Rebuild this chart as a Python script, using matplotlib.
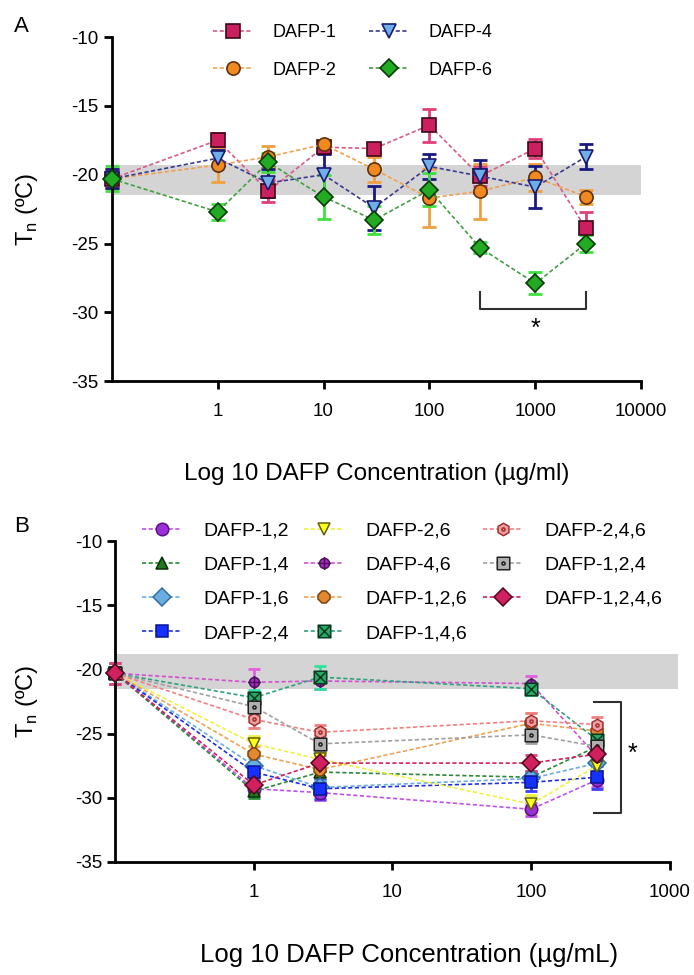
import matplotlib
matplotlib.use("Agg")
import matplotlib.pyplot as plt
from matplotlib.path import Path

plt.rcParams['font.family'] = ['Liberation Sans', 'DejaVu Sans']
plt.rcParams['axes.unicode_minus'] = False

# ---- panel A data ----
conc_a = [0.1, 1, 3, 10, 30, 100, 300, 1000, 3000]
dafp1 = [-20.3, -17.5, -21.2, -18.0, -18.1, -16.4, -20.1, -18.1, -23.9]
dafp1_err = [0.7, 0.5, 0.8, 0.4, 0.3, 1.2, 0.7, 0.7, 1.2]
dafp2 = [-20.3, -19.3, -18.7, -17.8, -19.6, -21.7, -21.2, -20.2, -21.6]
dafp2_err = [0.7, 1.2, 0.8, 0.3, 0.9, 2.1, 2.0, 1.0, 0.5]
dafp4 = [-20.3, -18.8, -20.6, -20.0, -22.4, -19.4, -20.1, -20.9, -18.7]
dafp4_err = [0.7, 0.6, 1.0, 1.5, 1.6, 0.9, 1.2, 1.5, 0.9]
dafp6 = [-20.3, -22.7, -19.1, -21.6, -23.3, -21.1, -25.3, -27.9, -25.0]
dafp6_err = [0.9, 0.6, 0.7, 1.6, 1.0, 1.2, 0.4, 0.8, 0.6]

# ---- panel B data ----
conc_b = [0.1, 1, 3, 100, 300]
b_labels = ['DAFP-1,2', 'DAFP-1,4', 'DAFP-1,6', 'DAFP-2,4',
            'DAFP-2,6', 'DAFP-4,6', 'DAFP-1,2,6', 'DAFP-1,4,6',
            'DAFP-2,4,6', 'DAFP-1,2,4', 'DAFP-1,2,4,6']
b_vals = [
    [-20.3, -29.3, -29.6, -30.9, -28.6],
    [-20.3, -29.5, -28.0, -28.4, -26.0],
    [-20.3, -27.5, -29.2, -28.5, -27.3],
    [-20.3, -28.0, -29.3, -28.8, -28.4],
    [-20.3, -25.8, -27.0, -30.5, -27.5],
    [-20.3, -21.0, -20.9, -21.1, -26.8],
    [-20.3, -26.6, -27.8, -24.2, -24.8],
    [-20.3, -22.2, -20.6, -21.5, -25.5],
    [-20.3, -23.9, -24.9, -24.0, -24.3],
    [-20.3, -22.9, -25.8, -25.1, -26.0],
    [-20.3, -29.0, -27.3, -27.3, -26.6],
]
b_errs = [
    [0.8, 0.5, 0.6, 0.5, 0.6],
    [0.8, 0.5, 0.6, 0.5, 0.6],
    [0.8, 0.6, 0.6, 0.5, 0.6],
    [0.8, 0.6, 0.8, 0.7, 0.9],
    [0.8, 0.6, 0.6, 0.7, 0.6],
    [0.8, 1.0, 0.6, 0.6, 0.6],
    [0.8, 0.6, 0.6, 0.8, 0.6],
    [0.8, 0.6, 0.9, 0.5, 0.6],
    [0.8, 0.7, 0.6, 0.6, 0.6],
    [0.8, 0.6, 0.6, 0.6, 0.6],
    [0.8, 0.6, 0.6, 0.6, 0.6],
]

# custom markers
circ = Path.unit_circle()
cross = Path([[-1.25, 0], [1.25, 0], [0, -1.25], [0, 1.25]],
             [Path.MOVETO, Path.LINETO, Path.MOVETO, Path.LINETO])
circle_cross = Path.make_compound_path(circ, cross)
sq = Path([[-1, -1], [1, -1], [1, 1], [-1, 1], [-1, -1]],
          [Path.MOVETO, Path.LINETO, Path.LINETO, Path.LINETO, Path.CLOSEPOLY])
xlines = Path([[-1, -1], [1, 1], [-1, 1], [1, -1]],
              [Path.MOVETO, Path.LINETO, Path.MOVETO, Path.LINETO])
square_x = Path.make_compound_path(sq, xlines)
dot = Path(circ.vertices * 0.25, circ.codes)
square_dot = Path.make_compound_path(sq, dot)
hexa = Path.unit_regular_polygon(6)
hex_dot = Path.make_compound_path(hexa, dot)

b_styles = [
    # marker, face, edge, line, err
    ('o', '#9b30d8', '#5a1080', '#c050e8', '#c050e8'),
    ('^', '#1f7a1f', '#0a300a', '#2a8a3a', '#2a8a3a'),
    ('D', '#6aaee0', '#2f6fa8', '#6aaee0', '#6aaee0'),
    ('s', '#1530ff', '#0a1590', '#2030e0', '#4040ff'),
    ('v', '#ffff20', '#606000', '#f0f040', '#f0f040'),
    (circle_cross, '#a030c0', '#50105a', '#d050d0', '#e060e0'),
    ('8', '#e08a30', '#804010', '#f0a050', '#f0a050'),
    (square_x, '#2aa868', '#0a3a20', '#30a080', '#30e0a0'),
    (hex_dot, '#f0a0a0', '#a03030', '#f08080', '#f08080'),
    (square_dot, '#b0b0b0', '#202020', '#a0a0a0', '#a0a0a0'),
    ('D', '#d02060', '#500818', '#d02060', '#e04080'),
]

fig = plt.figure(figsize=(6.94, 9.75), dpi=100)
axA = fig.add_axes([0.161, 0.609, 0.763, 0.353])
axB = fig.add_axes([0.166, 0.116, 0.799, 0.329])


def style_axis(ax, xmax):
    ticks = [t for t in [1, 10, 100, 1000, 10000] if t <= xmax]
    ax.set_xscale('log')
    ax.set_xlim(0.1, xmax)
    ax.set_ylim(-35, -10)
    ax.set_yticks([-35, -30, -25, -20, -15, -10])
    ax.set_xticks(ticks)
    ax.set_xticklabels([str(t) for t in ticks])
    ax.minorticks_off()
    for s in ['top', 'right']:
        ax.spines[s].set_visible(False)
    for s in ['left', 'bottom']:
        ax.spines[s].set_linewidth(2)
    ax.tick_params(width=2, length=6, labelsize=13.5, direction='out')
    ax.tick_params(axis='x', pad=10)


# ---- panel A ----
style_axis(axA, 10000)
axA.fill_between([0.1, 10000], -21.45, -19.3, color='#d4d4d4', lw=0, zorder=0)

a_series = [
    ('DAFP-1', dafp1, dafp1_err, 's', '#cc1f5f', '#3a0a18', '#d85a88', '#e0407a'),
    ('DAFP-2', dafp2, dafp2_err, 'o', '#f08a20', '#603010', '#f0a050', '#f0a040'),
    ('DAFP-4', dafp4, dafp4_err, 'v', '#70aee8', '#1a1a70', '#3a3a90', '#1a1a80'),
    ('DAFP-6', dafp6, dafp6_err, 'D', '#22aa22', '#0a3a0a', '#40a040', '#40e040'),
]
for lab, y, e, m, fc, ec, lc, erc in a_series:
    axA.errorbar(conc_a, y, yerr=e, fmt='none', ecolor=erc, elinewidth=2,
                 capsize=5, capthick=2, zorder=2, clip_on=False)
    axA.plot(conc_a, y, ls=(0, (2.5, 1.5)), lw=1.2, color=lc, marker=m,
             ms=9.5, mfc=fc, mec=ec, mew=1.2, label=lab, zorder=3, clip_on=False)

axA.legend(loc='upper left', bbox_to_anchor=(213 / 694, 1 - 24 / 975),
           bbox_transform=fig.transFigure, ncol=2, frameon=False,
           fontsize=13, handlelength=2.2, handletextpad=1.1,
           columnspacing=1.8, labelspacing=1.15, borderpad=0, borderaxespad=0)

# significance bracket A
axA.plot([300, 300, 3000, 3000], [-28.5, -29.75, -29.75, -28.5],
         color='#303030', lw=1.5, clip_on=False)
axA.text(1000, -31.2, '*', ha='center', va='center', fontsize=18)

axA.set_xlabel('Log 10 DAFP Concentration (µg/ml)', fontsize=17.5)
axA.xaxis.set_label_coords(0.5, -0.238)
axA.set_ylabel(r'T$_\mathregular{n}$ (ºC)', fontsize=17)
axA.yaxis.set_label_coords(-0.136, 0.5)
fig.text(14 / 694, 1 - 27 / 975, 'A', fontsize=16, va='center', ha='left')

# ---- panel B ----
style_axis(axB, 1000)
axB.fill_between([0.1, 1150], -21.5, -18.8, color='#d4d4d4', lw=0, zorder=0,
                 clip_on=False)

for lab, y, e, st in zip(b_labels, b_vals, b_errs, b_styles):
    m, fc, ec, lc, erc = st
    axB.errorbar(conc_b, y, yerr=e, fmt='none', ecolor=erc, elinewidth=2,
                 capsize=4, capthick=2, zorder=2, clip_on=False)
    axB.plot(conc_b, y, ls=(0, (2.5, 1.5)), lw=1.2, color=lc, marker=m,
             ms=9, mfc=fc, mec=ec, mew=1.1, label=lab, zorder=3, clip_on=False)

axB.legend(loc='upper left', bbox_to_anchor=(142 / 694, 1 - 522 / 975),
           bbox_transform=fig.transFigure, ncol=3, frameon=False,
           fontsize=14, handlelength=2.05, handletextpad=1.1,
           columnspacing=0.8, labelspacing=0.85, borderpad=0, borderaxespad=0)

# significance bracket B
axB.plot([283, 447, 447, 283], [-22.5, -22.5, -31.2, -31.2],
         color='#303030', lw=1.5, clip_on=False)
axB.text(537, -26.6, '*', ha='center', va='center', fontsize=18)

axB.set_xlabel('Log 10 DAFP Concentration (µg/mL)', fontsize=18.5)
axB.xaxis.set_label_coords(0.53, -0.252)
axB.set_ylabel(r'T$_\mathregular{n}$ (ºC)', fontsize=17)
axB.yaxis.set_label_coords(-0.135, 0.5)
fig.text(14 / 694, 1 - 527 / 975, 'B', fontsize=16, va='center', ha='left')

fig.savefig('out.png', dpi=100)
